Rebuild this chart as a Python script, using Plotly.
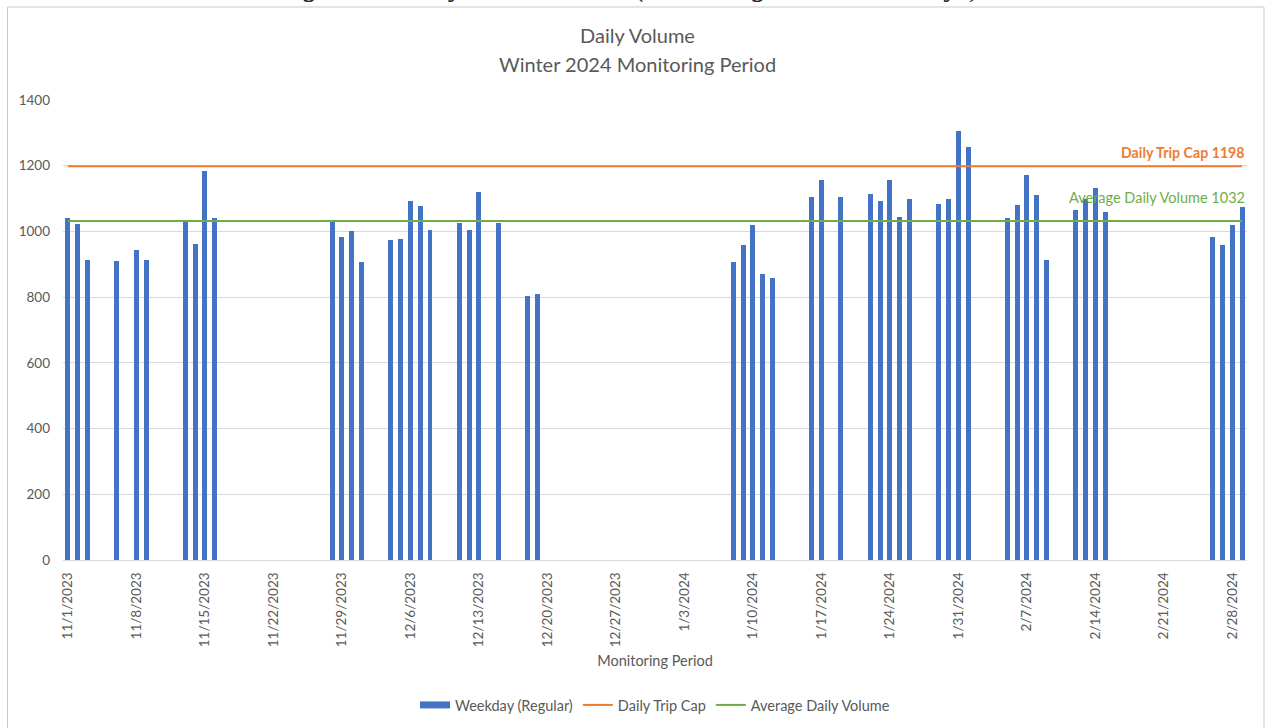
import plotly.graph_objects as go

# ---- data ----
dates = [
    "2023-11-01", "2023-11-02", "2023-11-03", "2023-11-06", "2023-11-08", "2023-11-09",
    "2023-11-13", "2023-11-14", "2023-11-15", "2023-11-16",
    "2023-11-28", "2023-11-29", "2023-11-30", "2023-12-01",
    "2023-12-04", "2023-12-05", "2023-12-06", "2023-12-07", "2023-12-08",
    "2023-12-11", "2023-12-12", "2023-12-13", "2023-12-15",
    "2023-12-18", "2023-12-19",
    "2024-01-08", "2024-01-09", "2024-01-10", "2024-01-11", "2024-01-12",
    "2024-01-16", "2024-01-17", "2024-01-19",
    "2024-01-22", "2024-01-23", "2024-01-24", "2024-01-25", "2024-01-26",
    "2024-01-29", "2024-01-30", "2024-01-31", "2024-02-01",
    "2024-02-05", "2024-02-06", "2024-02-07", "2024-02-08", "2024-02-09",
    "2024-02-12", "2024-02-13", "2024-02-14", "2024-02-15",
    "2024-02-26", "2024-02-27", "2024-02-28", "2024-02-29",
]
volumes = [
    1040, 1022, 913, 910, 945, 913,
    1033, 963, 1185, 1040,
    1028, 982, 1000, 906,
    973, 978, 1093, 1077, 1003,
    1025, 1005, 1120, 1025,
    803, 811,
    908, 959, 1020, 870, 857,
    1105, 1156, 1105,
    1115, 1093, 1158, 1045, 1100,
    1085, 1100, 1307, 1257,
    1041, 1079, 1172, 1110, 913,
    1065, 1098, 1132, 1060,
    983, 958, 1020, 1074,
]
trip_cap = 1198
avg_volume = 1032
range_start = "2023-10-31 12:00"
range_end = "2024-02-29 12:00"

GREY = "#595959"
FONT = "Lato"
BLUE = "#4472C4"
ORANGE = "#ED7D31"
GREEN = "#70AD47"
DAY_MS = 86400000

fig = go.Figure()
fig.add_trace(go.Bar(
    x=dates, y=volumes, name="Weekday (Regular)",
    marker=dict(color=BLUE, line=dict(width=0)),
    width=0.5 * DAY_MS, showlegend=False, legendgroup="wk",
))
# legend swatch (wide rectangle) for the bar series
fig.add_trace(go.Scatter(
    x=[None], y=[None], mode="lines", name="Weekday (Regular)",
    line=dict(color=BLUE, width=7), legendgroup="wk",
))
fig.add_trace(go.Scatter(
    x=[dates[0], dates[-1]], y=[trip_cap, trip_cap], mode="lines",
    name="Daily Trip Cap", line=dict(color=ORANGE, width=2),
))
fig.add_trace(go.Scatter(
    x=[dates[0], dates[-1]], y=[avg_volume, avg_volume], mode="lines",
    name="Average Daily Volume", line=dict(color=GREEN, width=2),
))

annotations = [
    dict(text="<i>Figure 5: Daily Total Volume (Excluding Events/Holidays)</i>",
         xref="paper", yref="paper", x=0.5, y=1 + 114 / 460, xanchor="center", yanchor="middle",
         showarrow=False, font=dict(family="Liberation Serif", size=30, color="#262626"),
         xshift=-27),
    dict(text="Daily Volume", xref="paper", yref="paper", x=0.5, y=1 + 65 / 460,
         xanchor="center", yanchor="middle", showarrow=False,
         font=dict(family=FONT, size=20, color=GREY), xshift=-18),
    dict(text="Winter 2024 Monitoring Period", xref="paper", yref="paper", x=0.5, y=1 + 36 / 460,
         xanchor="center", yanchor="middle", showarrow=False,
         font=dict(family=FONT, size=20, color=GREY), xshift=-18),
    dict(text="<b>Daily Trip Cap 1198</b>", xref="paper", yref="y", x=1, y=trip_cap,
         xanchor="right", yanchor="bottom", yshift=3, showarrow=False,
         font=dict(family=FONT, size=14.2, color=ORANGE)),
    dict(text="Average Daily Volume 1032", xref="paper", yref="y", x=1, y=avg_volume,
         xanchor="right", yanchor="bottom", yshift=13, showarrow=False,
         font=dict(family=FONT, size=14.5, color=GREEN)),
]

fig.update_layout(
    width=1266, height=728,
    margin=dict(l=63, r=19, t=100, b=168, autoexpand=False),
    paper_bgcolor="white", plot_bgcolor="white",
    font=dict(family=FONT, color=GREY, size=13),
    bargap=0,
    showlegend=True,
    legend=dict(orientation="h", x=0.5, xanchor="center", yref="container",
                y=(728 - 705) / 728, yanchor="middle", itemwidth=30,
                font=dict(family=FONT, size=14.5, color=GREY), traceorder="normal"),
    annotations=annotations,
    shapes=[dict(type="rect", xref="paper", yref="paper",
                 x0=(7.5 - 63) / 1184, x1=(1264 - 63) / 1184,
                 y0=-(728 - 560 + 10) / 460, y1=1 + 93 / 460,
                 line=dict(color="#c9c9c9", width=1), fillcolor="rgba(0,0,0,0)", layer="below")],
)
fig.update_xaxes(
    type="date", range=[range_start, range_end], automargin=False,
    tick0="2023-11-01", dtick=7 * DAY_MS, tickformat="%-m/%-d/%Y", tickangle=-90,
    tickfont=dict(family=FONT, size=13.5, color=GREY),
    showgrid=False, showline=True, linecolor="#d9d9d9", linewidth=1,
    ticks="", ticklen=0, ticklabelstandoff=6,
    title=dict(text="Monitoring Period", font=dict(family=FONT, size=14.5, color=GREY), standoff=9),
)
fig.update_yaxes(
    range=[0, 1400], dtick=200, showgrid=True, gridcolor="#d9d9d9", gridwidth=1,
    zeroline=False, showline=False, ticks="", automargin=False,
    tickfont=dict(family=FONT, size=13.5, color=GREY), ticklabelstandoff=12,
)

fig.write_html("out.html", config={"displayModeBar": False},
               post_script="document.body.style.margin='0';")
